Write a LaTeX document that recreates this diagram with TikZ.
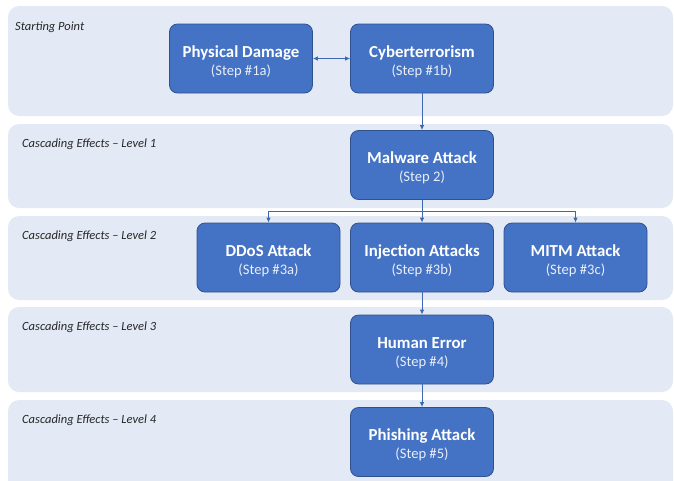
\documentclass[tikz,border=0pt]{standalone}
\usepackage{fontspec}
\setmainfont{Carlito}
\usetikzlibrary{arrows.meta,calc}
\definecolor{bandfill}{HTML}{E3EAF5}
\definecolor{boxfill}{HTML}{4472C4}
\definecolor{boxline}{HTML}{2F528F}
\definecolor{linkcol}{HTML}{3F68B2}
\tikzset{
  band/.style={fill=bandfill, draw=none, rounded corners=11pt},
  stepbox/.style={fill=boxfill, draw=boxline, line width=0.8pt, rounded corners=8pt,
    minimum width=143pt, minimum height=69pt, inner sep=0pt},
  boxtitle/.style={text=white, font=\fontsize{16.8}{18}\selectfont\bfseries, anchor=base, inner sep=0pt},
  boxsub/.style={text=white!88!boxfill, font=\fontsize{14.6}{16}\selectfont, anchor=base, inner sep=0pt},
  level/.style={font=\fontsize{12.5}{14}\selectfont\itshape, anchor=base west, inner sep=0pt, text=black!85},
  tip/.tip={Latex[length=5pt,width=4.5pt]},
  link/.style={draw=linkcol, line width=0.9pt, -tip},
  link2/.style={draw=linkcol, line width=0.9pt, tip-tip},
}
% one step box: name, x, y, title, step label
\newcommand{\mkstep}[5]{%
  \node[stepbox] (#1) at (#2,#3) {};
  \node[boxtitle] (#1-t) at ($(#1.center)+(0,-1.5)$) {#4};
  \node[boxsub] (#1-s) at ($(#1.center)+(0,16.5)$) {#5};
}
\begin{document}
\begin{tikzpicture}[x=1pt,y=-1pt]
\useasboundingbox (0,0) rectangle (674,480);

% level bands
\fill[band] (8,6) rectangle (673,116);
\fill[band] (8,124) rectangle (673,208);
\fill[band] (8,216) rectangle (673,300);
\fill[band] (8,307) rectangle (673,392);
\fill[band] (8,400) rectangle (673,495);

% level captions
\node[level] (l0) at (15,30) {Starting Point};
\node[level] (l1) at (22,147) {Cascading Effects – Level 1};
\node[level] (l2) at (22,239) {Cascading Effects – Level 2};
\node[level] (l3) at (22,330) {Cascading Effects – Level 3};
\node[level] (l4) at (22,423) {Cascading Effects – Level 4};

% steps
\mkstep{pd}{241}{58.5}{Physical Damage}{(Step \#1a)}
\mkstep{cy}{422}{58.5}{Cyberterrorism}{(Step \#1b)}
\mkstep{mw}{422}{165}{Malware Attack}{(Step 2)}
\mkstep{dd}{268.5}{257.5}{DDoS Attack}{(Step \#3a)}
\mkstep{ij}{422}{257.5}{Injection Attacks}{(Step \#3b)}
\mkstep{mi}{575.5}{257.5}{MITM Attack}{(Step \#3c)}
\mkstep{he}{422}{349.5}{Human Error}{(Step \#4)}
\mkstep{ph}{422}{442}{Phishing Attack}{(Step \#5)}

% connectors
\draw[link2] (pd) -- (cy);
\draw[link] (cy) -- (mw);
\coordinate (split) at (422,211);
\draw[draw=linkcol, line width=0.9pt] (mw.south) -- (split);
\draw[link] (split) -| (dd.north);
\draw[link] (split) -| (mi.north);
\draw[link] (split) -- (ij.north);
\draw[link] (ij) -- (he);
\draw[link] (he) -- (ph);
\end{tikzpicture}
\end{document}
